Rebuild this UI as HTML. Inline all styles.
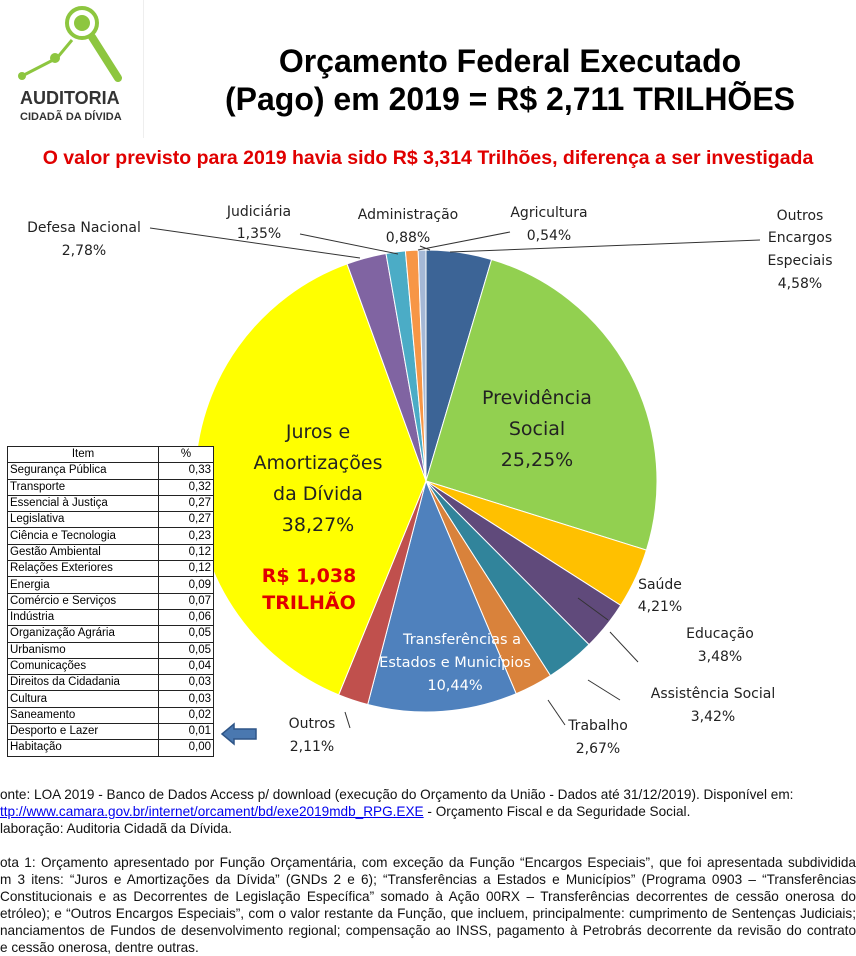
<!DOCTYPE html>
<html><head><meta charset="utf-8"><style>
body{margin:0;width:856px;height:937px;background:#fff;overflow:hidden;position:relative;font-family:"Liberation Sans",sans-serif}
.a{position:absolute}
table{border-collapse:collapse;font-family:"Liberation Sans",sans-serif;font-size:11.5px;background:#fff}
td{border:1px solid #222;height:15.3px;padding:0 2px;line-height:15px}
.foot{font-family:"Liberation Sans",sans-serif;font-size:13.6px;color:#111;line-height:17px;width:856px}
.foot div{white-space:nowrap;height:17px}
.foot .j{text-align:justify;text-align-last:justify;white-space:normal;overflow:hidden}
</style></head><body>
<svg class="a" style="left:0;top:0" width="145" height="140">
<line x1="22" y1="76" x2="57" y2="58" stroke="#8dc63f" stroke-width="3"/>
<line x1="57" y1="58" x2="72" y2="40" stroke="#8dc63f" stroke-width="3"/>
<circle cx="22" cy="76" r="4" fill="#8dc63f"/><circle cx="55" cy="58" r="5" fill="#8dc63f"/>
<circle cx="82" cy="23" r="15" fill="none" stroke="#8dc63f" stroke-width="4"/>
<circle cx="82" cy="23" r="8" fill="#8dc63f"/>
<line x1="92" y1="37" x2="118" y2="78" stroke="#8dc63f" stroke-width="8" stroke-linecap="round"/>
<text x="20" y="104" font-family="Liberation Sans" font-weight="bold" font-size="18" fill="#333">AUDITORIA</text>
<text x="20" y="120" font-family="Liberation Sans" font-weight="bold" font-size="11" fill="#333">CIDADÃ DA DÍVIDA</text>
</svg>
<div class="a" style="top:0;left:143px;width:1px;height:138px;background:#eee"></div>
<div class="a" style="left:170px;top:42px;width:680px;text-align:center;font-weight:bold;font-size:32px;line-height:38px;color:#000">Orçamento Federal Executado<br>(Pago) em 2019 = R$ 2,711 TRILHÕES</div>
<div class="a" style="left:0;top:147px;width:856px;text-align:center;color:#e00000;font-weight:bold;font-size:19.5px;white-space:nowrap">O valor previsto para 2019 havia sido R$ 3,314 Trilhões, diferença a ser investigada</div>
<svg id="pie" class="a" style="left:0;top:0" width="856" height="780"></svg>
<div class="a" style="left:7px;top:446px">
<table>
<tr><td style="width:146px;text-align:center">Item</td><td style="width:50px;text-align:center">%</td></tr>
<tr><td>Segurança Pública</td><td align="right">0,33</td></tr>
<tr><td>Transporte</td><td align="right">0,32</td></tr>
<tr><td>Essencial à Justiça</td><td align="right">0,27</td></tr>
<tr><td>Legislativa</td><td align="right">0,27</td></tr>
<tr><td>Ciência e Tecnologia</td><td align="right">0,23</td></tr>
<tr><td>Gestão Ambiental</td><td align="right">0,12</td></tr>
<tr><td>Relações Exteriores</td><td align="right">0,12</td></tr>
<tr><td>Energia</td><td align="right">0,09</td></tr>
<tr><td>Comércio e Serviços</td><td align="right">0,07</td></tr>
<tr><td>Indústria</td><td align="right">0,06</td></tr>
<tr><td>Organização Agrária</td><td align="right">0,05</td></tr>
<tr><td>Urbanismo</td><td align="right">0,05</td></tr>
<tr><td>Comunicações</td><td align="right">0,04</td></tr>
<tr><td>Direitos da Cidadania</td><td align="right">0,03</td></tr>
<tr><td>Cultura</td><td align="right">0,03</td></tr>
<tr><td>Saneamento</td><td align="right">0,02</td></tr>
<tr><td>Desporto e Lazer</td><td align="right">0,01</td></tr>
<tr><td>Habitação</td><td align="right">0,00</td></tr>
</table></div>
<svg class="a" style="left:220px;top:722px" width="40" height="24"><polygon points="2,12 14,2 14,7 36,7 36,17 14,17 14,22" fill="#4a78b0" stroke="#2f5587" stroke-width="1.5"/></svg>
<div class="a foot" style="left:0;top:786px">
<div>onte: LOA 2019 - Banco de Dados Access p/ download (execução do Orçamento da União - Dados até 31/12/2019). Disponível em:</div>
<div><span style="color:#00e;text-decoration:underline">ttp://www.camara.gov.br/internet/orcament/bd/exe2019mdb_RPG.EXE</span> - Orçamento Fiscal e da Seguridade Social.</div>
<div>laboração: Auditoria Cidadã da Dívida.</div>
<div></div>
<div class="j">ota 1: Orçamento apresentado por Função Orçamentária, com exceção da Função “Encargos Especiais”, que foi apresentada subdividida</div>
<div class="j">m 3 itens: “Juros e Amortizações da Dívida” (GNDs 2 e 6); “Transferências a Estados e Municípios” (Programa 0903 – “Transferências</div>
<div class="j">Constitucionais e as Decorrentes de Legislação Específica” somado à Ação 00RX – Transferências decorrentes de cessão onerosa do</div>
<div class="j">etróleo); e “Outros Encargos Especiais”, com o valor restante da Função, que incluem, principalmente: cumprimento de Sentenças Judiciais;</div>
<div class="j">nanciamentos de Fundos de desenvolvimento regional; compensação ao INSS, pagamento à Petrobrás decorrente da revisão do contrato</div>
<div>e cessão onerosa, dentre outras.</div>
</div>
<script>
var d=[[4.58,"#3c6496"],[25.25,"#92d050"],[4.21,"#ffc000"],[3.48,"#604a7b"],[3.42,"#31849b"],[2.67,"#d9823b"],[10.44,"#4f81bd"],[2.11,"#c0504d"],[38.27,"#ffff00"],[2.78,"#8064a2"],[1.35,"#4bacc6"],[0.88,"#f79646"],[0.54,"#a5b8d6"]];
var cx=426,cy=481,r=231,a=0,s="";
d.forEach(function(e){var a2=a+e[0]/99.98*Math.PI*2;
var x1=cx+r*Math.sin(a),y1=cy-r*Math.cos(a),x2=cx+r*Math.sin(a2),y2=cy-r*Math.cos(a2);
s+='<path d="M'+cx+','+cy+' L'+x1+','+y1+' A'+r+','+r+' 0 '+((a2-a)>Math.PI?1:0)+' 1 '+x2+','+y2+' Z" fill="'+e[1]+'" stroke="#fff" stroke-width="1"/>';a=a2;});
var L=[[150,228,360,258],[300,234,398,254],[420,246,430,250],[510,232,418,250],[760,240,450,252],[608,620,578,598],[638,662,610,632],[620,700,588,680],[565,725,548,700],[350,728,345,712]];
L.forEach(function(l){s+='<polyline points="'+l[0]+','+l[1]+' '+l[2]+','+l[3]+'" fill="none" stroke="#333" stroke-width="1"/>';});
function t(x,y,txt,o){s+='<text x="'+x+'" y="'+y+'" text-anchor="middle" font-family="DejaVu Sans,Liberation Sans,sans-serif" font-size="'+(o&&o.fs||14)+'" fill="'+(o&&o.f||"#222")+'"'+(o&&o.b?' font-weight="bold"':'')+'>'+txt+'</text>';}
t(84,232,"Defesa Nacional");t(84,255,"2,78%");
t(259,216,"Judiciária");t(259,238,"1,35%");
t(408,219,"Administração");t(408,242,"0,88%");
t(549,217,"Agricultura");t(549,240,"0,54%");
t(800,220,"Outros");t(800,242,"Encargos");t(800,265,"Especiais");t(800,288,"4,58%");
t(537,404,"Previdência",{fs:19});t(537,435,"Social",{fs:19});t(537,466,"25,25%",{fs:19});
t(318,438,"Juros e",{fs:19});t(318,469,"Amortizações",{fs:19});t(318,500,"da Dívida",{fs:19});t(318,531,"38,27%",{fs:19});
t(309,582,"R$ 1,038",{fs:19,f:"#e00000",b:1});t(309,609,"TRILHÃO",{fs:19,f:"#e00000",b:1});
t(462,644,"Transferências a",{fs:14.5,f:"#fff"});t(455,667,"Estados e Municípios",{fs:14.5,f:"#fff"});t(455,690,"10,44%",{fs:14.5,f:"#fff"});
t(660,589,"Saúde");t(660,611,"4,21%");
t(720,638,"Educação");t(720,661,"3,48%");
t(713,698,"Assistência Social");t(713,721,"3,42%");
t(598,730,"Trabalho");t(598,753,"2,67%");
t(312,728,"Outros");t(312,751,"2,11%");
document.getElementById("pie").innerHTML=s;
</script>
</body></html>
